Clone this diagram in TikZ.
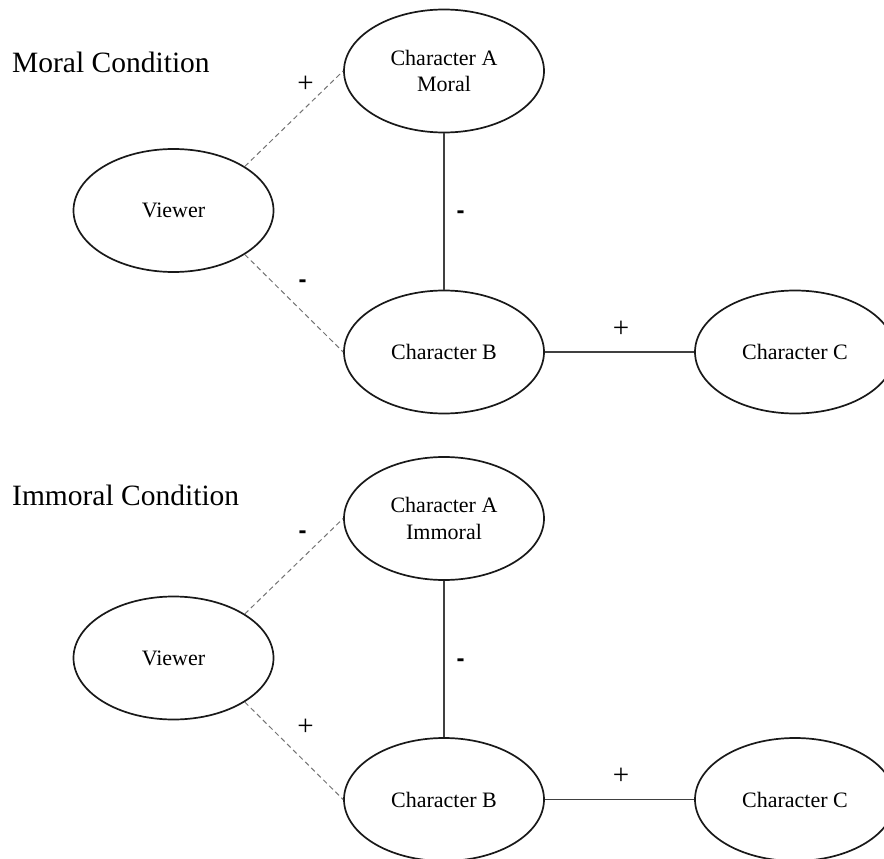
\documentclass[tikz,border=0pt]{standalone}
\usepackage{fontspec}
\setmainfont{Liberation Serif}
\newfontfamily\signfont{Liberation Sans}
\usetikzlibrary{shapes.geometric}

\tikzset{
  actor/.style={ellipse, draw=black!90, line width=1.7pt, minimum width=200pt,
    minimum height=123pt, inner sep=0pt, align=center,
    font=\fontsize{22}{26.5}\selectfont},
  tie/.style={draw=black!75, line width=1.1pt},
  viewtie/.style={draw=black!55, line width=1pt, dash pattern=on 5pt off 3.5pt},
  plus/.style={inner sep=0pt, font=\fontsize{29}{33}\selectfont},
  minus/.style={inner sep=0pt, font=\signfont\bfseries\fontsize{24}{28}\selectfont},
  heading/.style={anchor=base west, inner sep=0pt, font=\fontsize{29.5}{34}\selectfont}
}

\begin{document}
\begin{tikzpicture}[x=1pt, y=-1pt]
  \clip (0,0) rectangle (884,859);

  % Moral condition
  \node[heading] (mtitle) at (12,73) {Moral Condition};
  \node[actor] (mview) at (173.5,210.5) {Viewer};
  \node[actor] (ma) at (444,71) {Character A\\Moral};
  \node[actor] (mb) at (444,352) {Character B};
  \node[actor] (mc) at (795,352) {Character C};
  \draw[viewtie] (mview.north east) -- (ma.west);
  \draw[viewtie] (mview.south east) -- (mb.west);
  \draw[tie] (ma) -- (mb);
  \draw[tie] (mb) -- (mc);
  \node[plus] (mlva) at (305.5,84) {+};
  \node[minus] (mlvb) at (302.5,284) {-};
  \node[minus] (mlab) at (460.5,215) {-};
  \node[plus] (mlbc) at (621,329) {+};

  % Immoral condition
  \node[heading] (ititle) at (12,505) {Immoral Condition};
  \begin{scope}[shift={(0,447.5)}]
    \node[actor] (iview) at (173.5,210.5) {Viewer};
    \node[actor] (ia) at (444,71) {Character A\\Immoral};
    \node[actor] (ib) at (444,352) {Character B};
    \node[actor] (ic) at (795,352) {Character C};
    \draw[viewtie] (iview.north east) -- (ia.west);
    \draw[viewtie] (iview.south east) -- (ib.west);
    \draw[tie] (ia) -- (ib);
    \draw[tie] (ib) -- (ic);
    \node[minus] (ilva) at (302.5,87) {-};
    \node[plus] (ilvb) at (305.5,280) {+};
    \node[minus] (ilab) at (460.5,215) {-};
    \node[plus] (ilbc) at (621,329) {+};
  \end{scope}
\end{tikzpicture}
\end{document}
